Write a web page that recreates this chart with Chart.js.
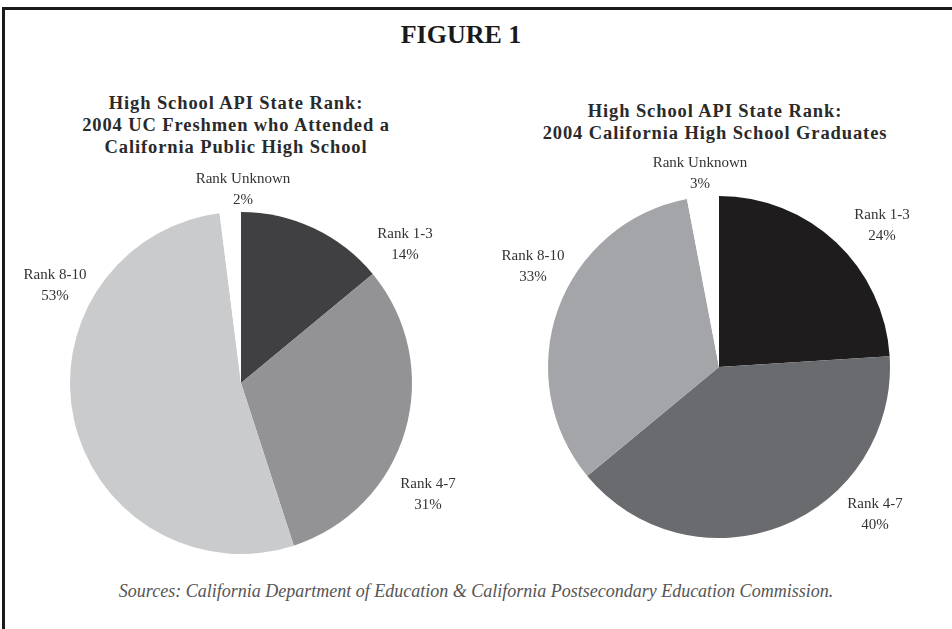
<!DOCTYPE html>
<html>
<head>
<meta charset="utf-8">
<script src="https://cdn.jsdelivr.net/npm/chart.js@4"></script>
<style>
  body { margin: 0; background: #fff; }
  #page { position: relative; width: 952px; height: 629px; overflow: hidden; font-family: "Liberation Serif", serif; color: #222; }
  #frame { position: absolute; left: 2px; top: 7px; width: 1000px; height: 700px; border-left: 3px solid #1a1a1a; border-top: 3px solid #1a1a1a; }
  .txt { position: absolute; text-align: center; white-space: nowrap; }
  #fig { left: 0; width: 922px; top: 20px; font-size: 26px; font-weight: bold; color: #1a1a1a; }
  .sub { font-size: 18.5px; font-weight: bold; line-height: 22px; color: #2a2a2a; letter-spacing: 0.9px; }
  #sub1 { left: 36px; width: 400px; top: 92px; }
  #sub2 { left: 515px; width: 400px; top: 100px; }
  #src { left: 0; width: 952px; top: 581px; font-size: 18px; font-style: italic; color: #555; }
  canvas { position: absolute; }
</style>
</head>
<body>
<div id="page">
  <div id="frame"></div>
  <div class="txt" id="fig">FIGURE 1</div>
  <div class="txt sub" id="sub1">High School API State Rank:<br>2004 UC Freshmen who Attended a<br>California Public High School</div>
  <div class="txt sub" id="sub2">High School API State Rank:<br>2004 California High School Graduates</div>
  <canvas id="pieLeft" style="left:11px; top:150px;"></canvas>
  <canvas id="pieRight" style="left:489px; top:150px;"></canvas>
  <div class="txt" id="src">Sources: California Department of Education &amp; California Postsecondary Education Commission.</div>
</div>
<script>
const categories = ["Rank 1-3", "Rank 4-7", "Rank 8-10", "Rank Unknown"];
const ucFreshmen = [14, 31, 53, 2];
const caGraduates = [24, 40, 33, 3];

const leftColors = ["#404042", "#939396", "#cacbcd", "#ffffff"];
const rightColors = ["#1e1c1d", "#6a6b6f", "#a4a5a8", "#ffffff"];

// label offsets from the pie centre (same order as categories)
const leftLabelPos = [[164, -138], [187, 112], [-186, -97], [2, -193]];
const rightLabelPos = [[163, -141], [156, 148], [-186, -100], [-19, -193]];

const sliceLabels = {
  id: "sliceLabels",
  afterDatasetsDraw(chart, args, opts) {
    const ctx = chart.ctx;
    const arc = chart.getDatasetMeta(0).data[0];
    const values = chart.data.datasets[0].data;
    ctx.save();
    ctx.font = "15px 'Liberation Serif'";
    ctx.fillStyle = "#333";
    ctx.textAlign = "center";
    ctx.textBaseline = "middle";
    chart.data.labels.forEach(function (lab, i) {
      const x = arc.x + opts.pos[i][0];
      const y = arc.y + opts.pos[i][1];
      ctx.fillText(lab, x, y - 10.5);
      ctx.fillText(values[i] + "%", x, y + 10.5);
    });
    ctx.restore();
  }
};

function makePie(id, values, colors, labelPos, pad) {
  const canvas = document.getElementById(id);
  canvas.width = 460;
  canvas.height = 420;
  canvas.style.width = "460px";
  canvas.style.height = "420px";
  return new Chart(canvas, {
    type: "pie",
    data: {
      labels: categories,
      datasets: [{
        data: values,
        backgroundColor: colors,
        borderWidth: 0
      }]
    },
    options: {
      responsive: false,
      animation: false,
      layout: { padding: pad },
      plugins: {
        legend: { display: false },
        tooltip: { enabled: false },
        sliceLabels: { pos: labelPos }
      }
    },
    plugins: [sliceLabels]
  });
}

makePie("pieLeft", ucFreshmen, leftColors, leftLabelPos, { left: 58, right: 58, top: 62, bottom: 16 });
makePie("pieRight", caGraduates, rightColors, rightLabelPos, { left: 58, right: 58, top: 46, bottom: 32 });
</script>
</body>
</html>
